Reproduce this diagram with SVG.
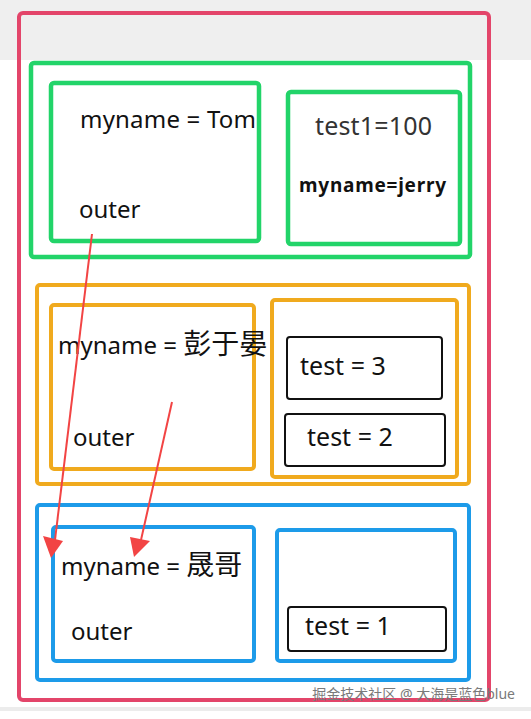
<svg xmlns="http://www.w3.org/2000/svg" width="531" height="719" viewBox="0 0 531 719">
<defs>
<style>
.t{font-family:"Noto Sans","Noto Sans CJK SC",sans-serif;fill:#111;font-size:24px}
.ts{font-size:25px}
.cjk{font-size:28px}
.g{fill:none;stroke:#22d469;stroke-width:4.5}
.o{fill:none;stroke:#f0aa1e;stroke-width:4}
.b{fill:none;stroke:#1d9be9;stroke-width:4}
.k{fill:#fff;stroke:#111;stroke-width:2}
.arr{stroke:#f24444;stroke-width:2;fill:none}
.head{fill:#f24444}
</style>
</defs>
<rect x="0" y="0" width="531" height="719" fill="#fff"/>
<rect x="0" y="0" width="531" height="60" fill="#efefef"/>
<rect x="0" y="707" width="531" height="4" fill="#ececec"/>
<g id="outer-red"><rect x="19" y="13" width="470" height="687" rx="4" fill="none" stroke="#e3456a" stroke-width="4"/></g>

<g id="green-scope">
<rect class="g" x="31" y="63" width="439" height="194" rx="3"/>
</g>
<g id="green-left">
<rect class="g" x="51" y="83" width="208" height="158" rx="3"/>
<text class="t" x="80" y="128" textLength="176">myname = Tom</text>
<text class="t" x="79" y="218">outer</text>
</g>
<g id="green-right">
<rect class="g" x="288" y="92" width="172" height="152" rx="3"/>
<text class="t" x="315" y="135" textLength="117" style="fill:#333;font-size:25px">test1=100</text>
<text class="t" x="299" y="192" textLength="147" style="font-weight:bold;font-size:19px">myname=jerry</text>
</g>

<g id="orange-scope">
<rect class="o" x="37" y="285" width="432" height="199" rx="3"/>
</g>
<g id="orange-left">
<rect class="o" x="51" y="305" width="203" height="164" rx="3"/>
<text class="t" x="58" y="354">myname = <tspan class="cjk">彭于晏</tspan></text>
<text class="t" x="73" y="446">outer</text>
</g>
<g id="orange-right">
<rect class="o" x="272" y="300" width="185" height="177" rx="3"/>
</g>
<g id="test3">
<rect class="k" x="287" y="337" width="155" height="62" rx="3"/>
<text class="t ts" x="300" y="375">test = 3</text>
</g>
<g id="test2">
<rect class="k" x="285" y="414" width="160" height="52" rx="3"/>
<text class="t ts" x="307" y="446">test = 2</text>
</g>

<g id="blue-scope">
<rect class="b" x="37" y="505" width="432" height="175" rx="3"/>
</g>
<g id="blue-left">
<rect class="b" x="53" y="527" width="201" height="134" rx="3"/>
<text class="t" x="61" y="575">myname = <tspan class="cjk">晟哥</tspan></text>
<text class="t" x="71" y="640">outer</text>
</g>
<g id="blue-right">
<rect class="b" x="277" y="530" width="178" height="131" rx="3"/>
</g>
<g id="test1">
<rect class="k" x="288" y="607" width="158" height="44" rx="3"/>
<text class="t ts" x="305" y="635">test = 1</text>
</g>

<g id="connectors">
<line class="arr" x1="92" y1="234" x2="55" y2="540"/>
<polygon class="head" points="43,536 63,541 51,558"/>
<line class="arr" x1="172" y1="402" x2="141" y2="540"/>
<polygon class="head" points="130,537 150,541 134,557"/>
</g>

<text x="515" y="699" text-anchor="end" style="font-family:'Noto Sans','Noto Sans CJK SC',sans-serif;font-size:14px;fill:#7a7a7a">掘金技术社区 @ 大海是蓝色blue</text>
</svg>
